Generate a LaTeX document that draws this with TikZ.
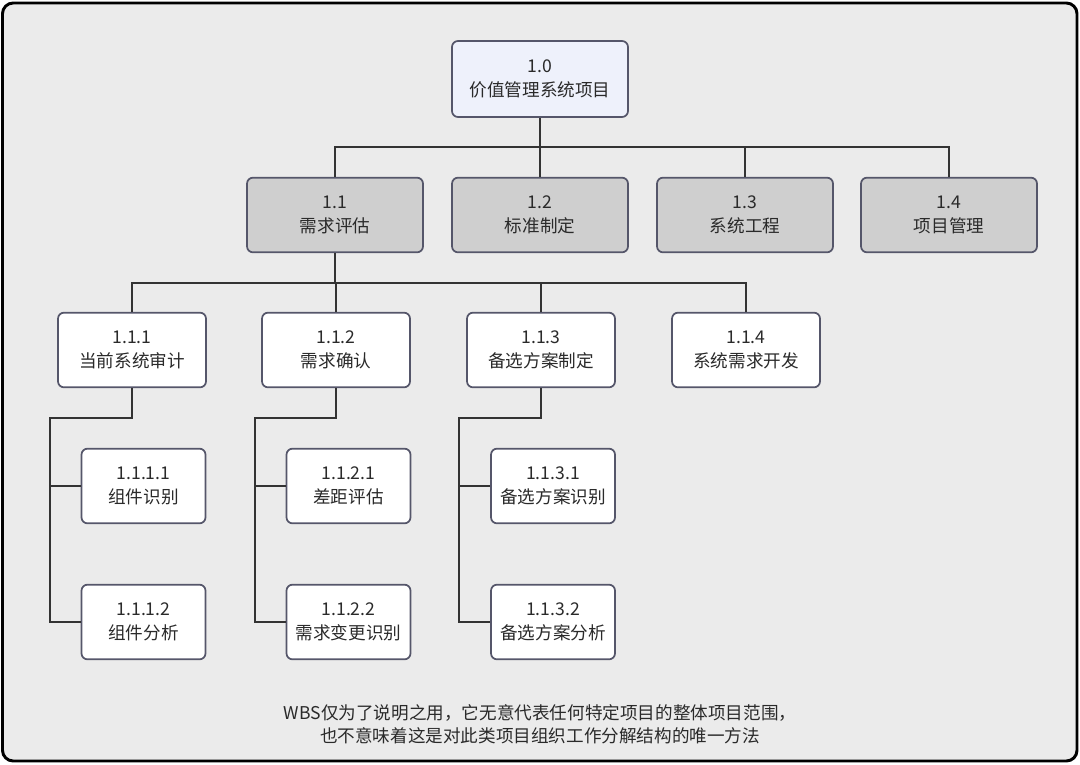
\documentclass[tikz,border=0pt]{standalone}
\usepackage{fontspec}
\setmainfont{Noto Sans CJK SC}
\definecolor{bgc}{HTML}{EBEBEB}
\definecolor{topc}{HTML}{EEF1FB}
\definecolor{midc}{HTML}{CFCFCF}
\definecolor{edgec}{HTML}{55566A}
\definecolor{linec}{HTML}{333333}
\definecolor{txtc}{HTML}{2A2A2A}
\tikzset{
  box/.style={draw=edgec, line width=1.3pt, rounded corners=4.5pt, fill=white,
    align=center, text=txtc, inner sep=0pt,
    font=\fontsize{13.2}{18}\selectfont},
  topbox/.style={box, fill=topc, minimum width=132pt, minimum height=57pt},
  midbox/.style={box, fill=midc, minimum width=132pt, minimum height=56pt},
  l3box/.style={box, minimum width=111pt, minimum height=56pt},
  l4box/.style={box, minimum width=93pt, minimum height=56pt},
  conn/.style={draw=linec, line width=0.9pt},
}
\begin{document}
\begin{tikzpicture}[x=0.75pt, y=-0.75pt]
\useasboundingbox (0,0) rectangle (1080,764);
\fill[white] (0,0) rectangle (1080,764);
\draw[fill=bgc, draw=black, line width=2.2pt, rounded corners=8pt] (2.5,3) rectangle (1077,761);

% nodes
\node[topbox] (n10) at (540,79) {1.0\\价值管理系统项目};
\node[midbox] (n11) at (335,215) {1.1\\需求评估};
\node[midbox] (n12) at (540,215) {1.2\\标准制定};
\node[midbox] (n13) at (745,215) {1.3\\系统工程};
\node[midbox] (n14) at (949,215) {1.4\\项目管理};

\node[l3box] (n111) at (132,350) {1.1.1\\当前系统审计};
\node[l3box] (n112) at (336,350) {1.1.2\\需求确认};
\node[l3box] (n113) at (541,350) {1.1.3\\备选方案制定};
\node[l3box] (n114) at (746,350) {1.1.4\\系统需求开发};

\node[l4box] (n1111) at (143.5,486) {1.1.1.1\\组件识别};
\node[l4box] (n1112) at (143.5,622) {1.1.1.2\\组件分析};
\node[l4box] (n1121) at (348.5,486) {1.1.2.1\\差距评估};
\node[l4box] (n1122) at (348.5,622) {1.1.2.2\\需求变更识别};
\node[l4box] (n1131) at (553,486) {1.1.3.1\\备选方案识别};
\node[l4box] (n1132) at (553,622) {1.1.3.2\\备选方案分析};

% connectors level 1 -> 2
\coordinate (j1) at (540,147);
\draw[conn] (n10.south) -- (j1);
\draw[conn] (n11.north) |- (j1) -| (n14.north);
\draw[conn] (n12.north) -- (n12.north |- j1);
\draw[conn] (n13.north) -- (n13.north |- j1);

% level 2 -> 3
\coordinate (j2) at (335,283);
\draw[conn] (n11.south) -- (j2);
\draw[conn] (n111.north) |- (j2) -| (n114.north);
\draw[conn] (n112.north) -- (n112.north |- j2);
\draw[conn] (n113.north) -- (n113.north |- j2);

% level 3 -> 4
\coordinate (s1) at (50,418);
\draw[conn] (n111.south) |- (s1) |- (n1112.west);
\draw[conn] (s1 |- n1111.west) -- (n1111.west);
\coordinate (s2) at (255,418);
\draw[conn] (n112.south) |- (s2) |- (n1122.west);
\draw[conn] (s2 |- n1121.west) -- (n1121.west);
\coordinate (s3) at (459,418);
\draw[conn] (n113.south) |- (s3) |- (n1132.west);
\draw[conn] (s3 |- n1131.west) -- (n1131.west);

% footnote
\node[align=center, text=txtc, font=\fontsize{13.2}{17.5}\selectfont, inner sep=0pt] (note) at (540,724)
  {WBS仅为了说明之用，它无意代表任何特定项目的整体项目范围，\\也不意味着这是对此类项目组织工作分解结构的唯一方法};
\end{tikzpicture}
\end{document}
